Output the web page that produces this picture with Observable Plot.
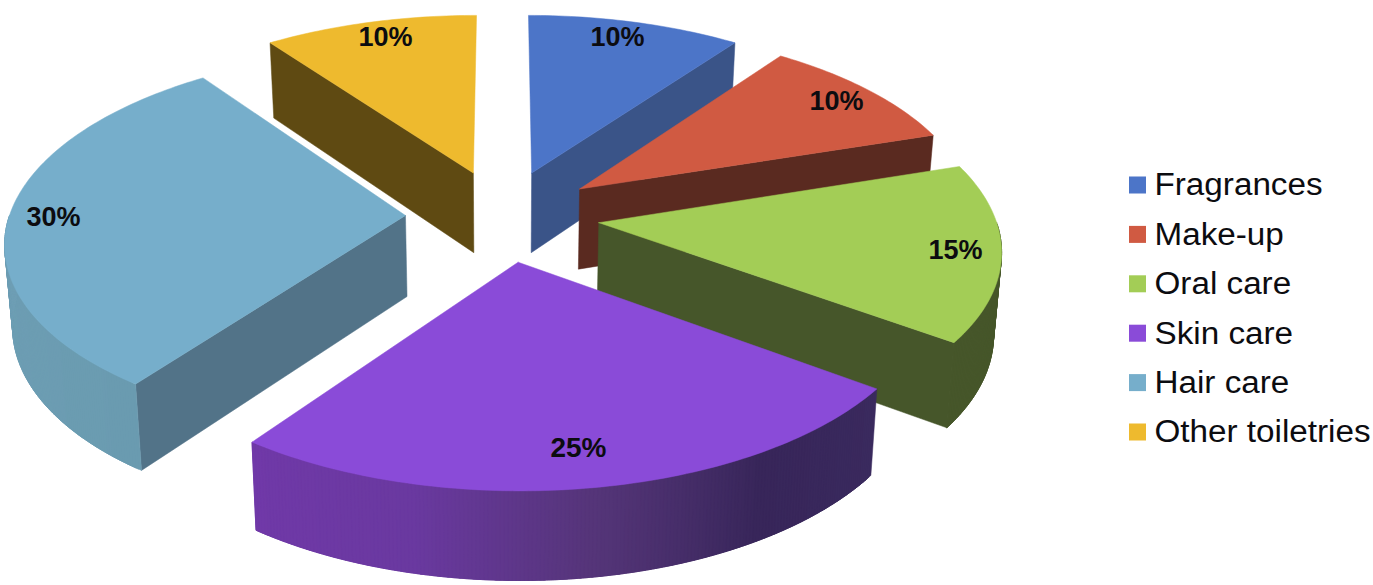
<!DOCTYPE html>
<html><head><meta charset="utf-8">
<style>html,body{margin:0;padding:0;background:#fff}svg{display:block}</style>
<script src="https://cdn.jsdelivr.net/npm/d3@7"></script>
<script src="https://cdn.jsdelivr.net/npm/@observablehq/plot@0.6"></script>
</head><body><div id="chart"></div>
<script>
const categories = ["Fragrances","Make-up","Oral care","Skin care","Hair care","Other toiletries"];
const shares = [10,10,15,25,30,10];
const topColors = ["#4c75c8","#d05a42","#a3cd56","#8a4bd8","#76aecb","#eeba2e"];
const wallColors = ["#3a5488","#5a2a20","#46562a","#3c2a5c","#527388","#5f4a12"];
const rimStops = [["#3a5488","#3a5488"],["#5a2a20","#5a2a20"],["#46562a","#46562a"],["#3a2a5e","#38265a","#553579","#6a39a0","#7039a8"],["#6a9bb0","#6f9fb5","#74a5bb"],["#5f4a12","#5f4a12"]];
const labelAt = [[617,37],[836,101],[955,250],[578,448],[53,217],[385,37]];
const labelWidth = [54,54,54,56,54,54];
const paintOrder = [5,0,1,4,2,3];
// layout of the projected pie
const cx=502, cy=215, A=396, k=0.473, p=0.125, e=0.245, depth=81;
const rad = d=>d*Math.PI/180;
function proj(u,v,low){
  const s=1/(1+p*v);
  let x=cx+A*u*s, y=cy-A*k*v*s;
  if(low){ x=cx+(x-cx)*0.984; y+=depth*Math.pow(s,0.6); }
  return [x,y];
}
let run=0;
const slices=shares.map((sh,i)=>{const a0=run*3.6; run+=sh; const a1=run*3.6; return {i,a0,a1,mid:(a0+a1)/2};});
const polys=[]; let pid=0;
function poly(points,c){const id=pid++; [...points,points[0]].forEach(([x,y])=>polys.push({id,x,y,c}));}
for(const i of paintOrder){
  const {a0,a1,mid}=slices[i];
  const ox=e*Math.sin(rad(mid)), oy=e*Math.cos(rad(mid));
  const rim=(a,low)=>proj(ox+Math.sin(rad(a)),oy+Math.cos(rad(a)),low);
  const apex=low=>proj(ox,oy,low);
  if(Math.sin(rad(a0))<-1e-6) poly([apex(false),rim(a0,false),rim(a0,true),apex(true)],wallColors[i]);
  if(Math.sin(rad(a1))>1e-6) poly([apex(false),rim(a1,false),rim(a1,true),apex(true)],wallColors[i]);
  const from=Math.max(a0,90), to=Math.min(a1,270);
  if(to>from){
    const color=d3.scaleLinear().domain(d3.quantize(d3.interpolate(a0,a1),rimStops[i].length)).range(rimStops[i]);
    for(let a=from;a<to;a+=0.5){
      const b=Math.min(a+1.5,to);
      const arc=d3.range(a,b,0.25).concat([b]);
      poly([...arc.map(t=>rim(t,false)),...arc.reverse().map(t=>rim(t,true))],d3.color(color(a+0.25)).formatHex());
    }
  }
  const pts=[apex(false)];
  for(let a=a0;a<=a1+1e-6;a+=1) pts.push(rim(a,false));
  poly(pts,topColors[i]);
}
const labels=shares.map((s,i)=>({t:s+"%",x:labelAt[i][0],y:labelAt[i][1]}));
const legend=categories.map((name,i)=>({name,c:topColors[i],y:185+i*49.4}));
const chart=Plot.plot({
  width:1373,height:585,margin:0,
  x:{axis:null,domain:[0,1373],range:[0,1373]},
  y:{axis:null,domain:[0,585],range:[0,585]},
  color:{type:"identity"},
  style:{background:"#fff"},
  marks:[
    Plot.line(polys,{x:"x",y:"y",z:"id",fill:"c",stroke:"c",strokeWidth:0.5,curve:"linear"}),
    Plot.text(labels,{x:"x",y:"y",text:"t",fontSize:28,fontWeight:"bold",fontFamily:"Liberation Sans",fill:"#0c0c10",textAnchor:"middle",lineAnchor:"middle"}),
    Plot.rect(legend,{x1:()=>1129,x2:()=>1146,y1:d=>d.y-8.5,y2:d=>d.y+8.5,fill:"c"}),
    Plot.text(legend,{x:()=>1154,y:"y",text:"name",fontSize:31,fontFamily:"Liberation Sans",fill:"#0c0c10",textAnchor:"start",lineAnchor:"middle"})
  ]
});
document.getElementById("chart").append(chart);
// the reference's text is stretched or squeezed horizontally: fit real text to the measured widths
const groups=chart.querySelectorAll('g[aria-label="text"]');
groups[0].querySelectorAll("text").forEach((t,i)=>{t.setAttribute("textLength",labelWidth[i]);t.setAttribute("lengthAdjust","spacingAndGlyphs");});
groups[1].querySelectorAll("text").forEach(t=>{t.setAttribute("textLength",t.getComputedTextLength()*1.072);t.setAttribute("lengthAdjust","spacingAndGlyphs");});
</script></body></html>
